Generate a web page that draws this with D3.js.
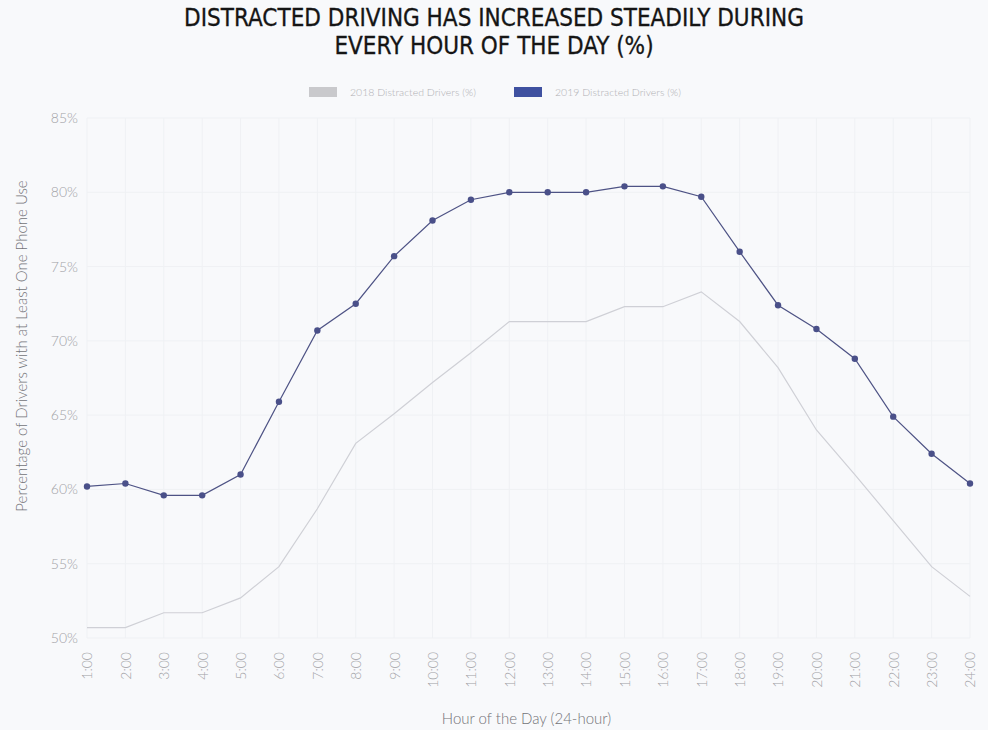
<!DOCTYPE html>
<html>
<head>
<meta charset="utf-8">
<script src="https://cdn.jsdelivr.net/npm/d3@7"></script>
<style>
  body { margin: 0; background: #f8f9fb; }
  svg { display: block; }
</style>
</head>
<body>
<div id="chart-area"></div>
<script>
const hours = ["1:00","2:00","3:00","4:00","5:00","6:00","7:00","8:00","9:00","10:00","11:00","12:00",
  "13:00","14:00","15:00","16:00","17:00","18:00","19:00","20:00","21:00","22:00","23:00","24:00"];
const drivers2018 = [50.7,50.7,51.7,51.7,52.7,54.8,58.7,63.1,65.1,67.2,69.2,71.3,
  71.3,71.3,72.3,72.3,73.3,71.3,68.2,64.0,61.0,57.9,54.8,52.8];
const drivers2019 = [60.2,60.4,59.6,59.6,61.0,65.9,70.7,72.5,75.7,78.1,79.5,80.0,
  80.0,80.0,80.4,80.4,79.7,76.0,72.4,70.8,68.8,64.9,62.4,60.4];
const yTicks = [50,55,60,65,70,75,80,85];

const W = 988, H = 730;
const margin = { left: 87, right: 18, top: 118, bottom: 92 };
const innerW = W - margin.left - margin.right;
const innerH = H - margin.top - margin.bottom;

const svg = d3.select("#chart-area").append("svg").attr("width", W).attr("height", H);
svg.append("rect").attr("width", W).attr("height", H).attr("fill", "#f8f9fb");

// title
const title = svg.append("text")
  .attr("x", W / 2).attr("y", 26)
  .attr("text-anchor", "middle")
  .attr("font-family", "'DejaVu Sans Condensed', 'Liberation Sans Narrow', sans-serif")
  .attr("font-size", "24px")
  .attr("fill", "#151515").attr("stroke", "#151515").attr("stroke-width", 0.3);
title.append("tspan").attr("x", W / 2).attr("dy", 0).text("DISTRACTED DRIVING HAS INCREASED STEADILY DURING");
title.append("tspan").attr("x", W / 2).attr("dy", 28).text("EVERY HOUR OF THE DAY (%)");

const g = svg.append("g").attr("transform", `translate(${margin.left},${margin.top})`);

const x = d3.scalePoint().domain(hours).range([0, innerW]);
const y = d3.scaleLinear().domain([50, 85]).range([innerH, 0]);

// grid
g.append("g").selectAll("line").data(hours).enter().append("line")
  .attr("x1", d => x(d)).attr("x2", d => x(d)).attr("y1", 0).attr("y2", innerH)
  .attr("stroke", "#eff1f4").attr("stroke-width", 1);
g.append("g").selectAll("line").data(yTicks).enter().append("line")
  .attr("x1", 0).attr("x2", innerW).attr("y1", d => y(d)).attr("y2", d => y(d))
  .attr("stroke", "#eff1f4").attr("stroke-width", 1);

// axes
const xAxis = g.append("g").attr("transform", `translate(0,${innerH})`)
  .call(d3.axisBottom(x).tickSize(0).tickPadding(0));
xAxis.select(".domain").remove();
xAxis.selectAll("text")
  .attr("transform", "rotate(-90)")
  .attr("x", -14).attr("y", 0).attr("dy", "0.35em")
  .attr("text-anchor", "end")
  .attr("font-family", "Lato, sans-serif").attr("font-weight", 300)
  .attr("font-size", "14px").attr("fill", "#a2a2a6");

const yAxis = g.append("g")
  .call(d3.axisLeft(y).tickValues(yTicks).tickSize(0).tickPadding(9).tickFormat(d => d + "%"));
yAxis.select(".domain").remove();
yAxis.selectAll("text")
  .attr("font-family", "Lato, sans-serif").attr("font-weight", 300)
  .attr("font-size", "14px").attr("fill", "#a2a2a6");

// axis labels
svg.append("text")
  .attr("x", margin.left + innerW / 2 - 2).attr("y", 724)
  .attr("text-anchor", "middle")
  .attr("font-family", "Lato, sans-serif").attr("font-weight", 300)
  .attr("font-size", "15px").attr("fill", "#737378")
  .text("Hour of the Day (24-hour)");
svg.append("text")
  .attr("transform", `translate(27,${margin.top + innerH / 2 - 32}) rotate(-90)`)
  .attr("text-anchor", "middle")
  .attr("font-family", "Lato, sans-serif").attr("font-weight", 300)
  .attr("font-size", "15px").attr("fill", "#737378")
  .text("Percentage of Drivers with at Least One Phone Use");

// lines
const line = d3.line().x((d, i) => x(hours[i])).y(d => y(d));
g.append("path").datum(drivers2018).attr("d", line)
  .attr("fill", "none").attr("stroke", "#cfd0d6").attr("stroke-width", 1.2);
g.append("path").datum(drivers2019).attr("d", line)
  .attr("fill", "none").attr("stroke", "#4e5385").attr("stroke-width", 1.2);
g.selectAll("circle.p19").data(drivers2019).enter().append("circle")
  .attr("class", "p19")
  .attr("cx", (d, i) => x(hours[i])).attr("cy", d => y(d)).attr("r", 3.2)
  .attr("fill", "#4a5089");

// legend
const legend = [
  { label: "2018 Distracted Drivers (%)", color: "#c9c9cc", x: 309 },
  { label: "2019 Distracted Drivers (%)", color: "#3f51a0", x: 514 }
];
const lg = svg.append("g").selectAll("g").data(legend).enter().append("g")
  .attr("transform", d => `translate(${d.x},87)`);
lg.append("rect").attr("width", 28).attr("height", 10).attr("fill", d => d.color);
lg.append("text").attr("x", 41).attr("y", 5).attr("dy", "0.35em")
  .attr("font-family", "Lato, sans-serif").attr("font-weight", 300)
  .attr("font-size", "10.5px").attr("fill", "#b0b0b4")
  .text(d => d.label);
</script>
</body>
</html>
